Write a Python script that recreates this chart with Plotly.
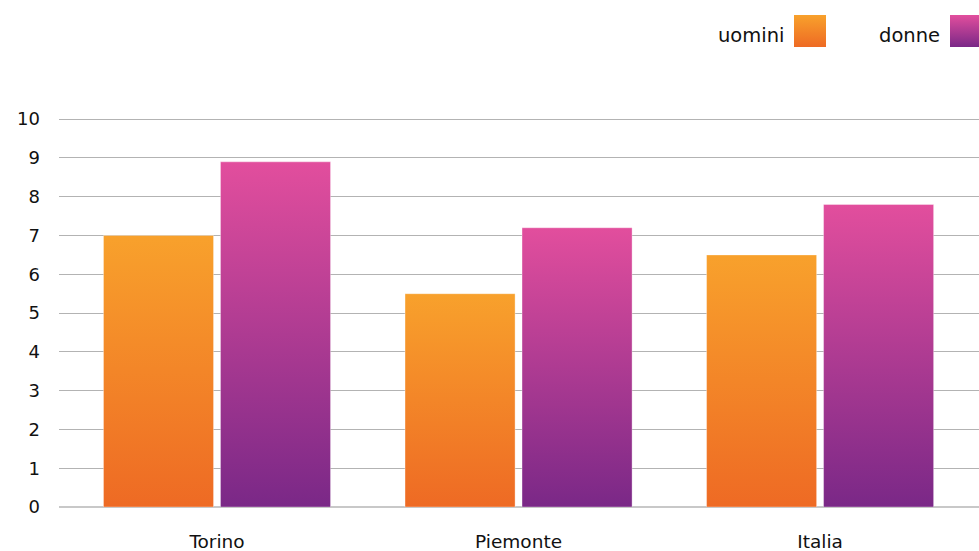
import plotly.graph_objects as go

categories = ["Torino", "Piemonte", "Italia"]
series_names = ["uomini", "donne"]
uomini = [7.0, 5.5, 6.5]
donne = [8.9, 7.2, 7.8]
y_ticks = [0, 1, 2, 3, 4, 5, 6, 7, 8, 9, 10]

series_values = [uomini, donne]
top_colors = ["#f8a12c", "#e24e9d"]
bottom_colors = ["#ee6a24", "#7a2887"]
offsets = [-0.194, 0.194]
half_w = 0.1825

FONT = "'DejaVu Sans', Verdana, sans-serif"

fig = go.Figure()

for s, vals in enumerate(series_values):
    for i, v in enumerate(vals):
        c = i + offsets[s]
        fig.add_trace(go.Scatter(
            x=[c - half_w, c + half_w, c + half_w, c - half_w, c - half_w],
            y=[0, 0, v, v, 0],
            mode="lines",
            line=dict(width=1, color="rgba(255,255,255,0.35)"),
            fill="toself",
            fillgradient=dict(type="vertical",
                              colorscale=[[0, bottom_colors[s]], [1, top_colors[s]]]),
            hoverinfo="skip",
            showlegend=False,
            xaxis="x", yaxis="y",
        ))

# custom legend (text left of gradient square)
legend_x = [810, 966]
for s, name in enumerate(series_names):
    fig.add_trace(go.Scatter(
        x=[legend_x[s]], y=[31], mode="markers",
        marker=dict(symbol="square", size=32, color=top_colors[s],
                    gradient=dict(type="vertical", color=bottom_colors[s]),
                    line=dict(width=0)),
        hoverinfo="skip", showlegend=False,
        xaxis="x2", yaxis="y2",
    ))
    fig.add_annotation(x=legend_x[s] - 24, y=35, xref="x2", yref="y2",
                       text=name, showarrow=False, xanchor="right", yanchor="middle",
                       font=dict(family=FONT, size=19.5, color="#111111"))

fig.update_layout(
    width=979, height=551,
    margin=dict(l=59, r=0, t=0, b=44, pad=0, autoexpand=False),
    paper_bgcolor="white",
    plot_bgcolor="rgba(0,0,0,0)",
    showlegend=False,
    font=dict(family=FONT, size=18.5, color="#111111"),
    xaxis=dict(
        domain=[0, 1], anchor="y", automargin=False,
        range=[-0.524, 2.527],
        tickvals=list(range(len(categories))),
        ticktext=categories,
        showgrid=False, zeroline=False, showline=False,
        ticks="", ticklabelstandoff=21,
        tickfont=dict(family=FONT, size=18.5, color="#111111"),
    ),
    yaxis=dict(
        domain=[0, (507 - 118) / 507], anchor="x", automargin=False,
        range=[0, 10.03],
        tickvals=y_ticks,
        showgrid=True, gridcolor="#b3b3b3", gridwidth=1,
        zeroline=True, zerolinecolor="#c8c8c8", zerolinewidth=2,
        showline=False, ticks="", ticklabelstandoff=18,
        tickfont=dict(family=FONT, size=18, color="#111111"),
    ),
    xaxis2=dict(domain=[0, 1], anchor="y2", range=[59, 979], visible=False,
                showgrid=False, zeroline=False, automargin=False),
    yaxis2=dict(domain=[0, 1], anchor="x2", range=[507, 0], visible=False,
                showgrid=False, zeroline=False, automargin=False),
)

fig.write_html("out.html", config={"displayModeBar": False},
               post_script="document.body.style.margin='0';")
